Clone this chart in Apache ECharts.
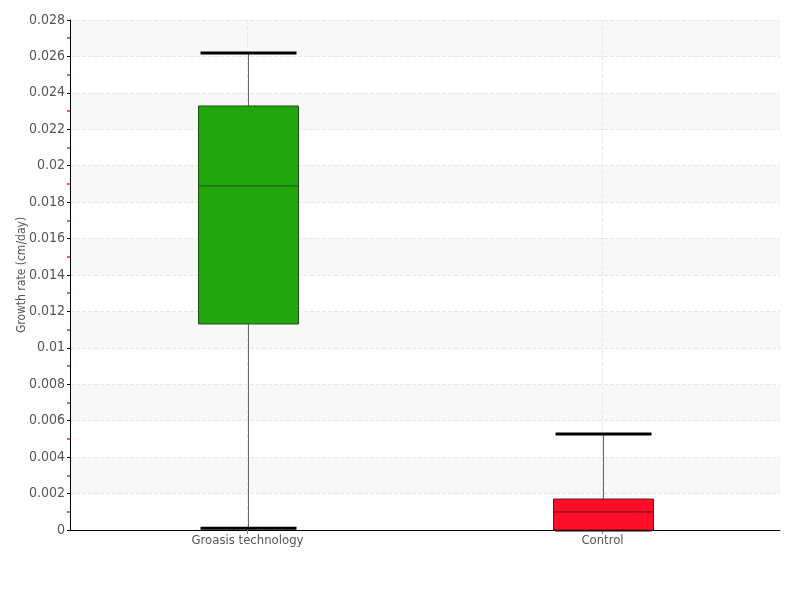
<!DOCTYPE html>
<html>
<head>
<meta charset="utf-8">
<script src="https://cdn.jsdelivr.net/npm/echarts@6/dist/echarts.min.js"></script>
<style>
  html, body { margin: 0; padding: 0; background: #fff; }
  #chart { width: 800px; height: 600px; }
</style>
</head>
<body>
<div id="chart"></div>
<script>
// values (cm/day)
const categories = ['Groasis technology', 'Control']
const whiskerLow = [0.0001, 0]
const q1 = [0.01131, 0]
const median = [0.01889, 0.00099]
const q3 = [0.02328, 0.0017]
const whiskerHigh = [0.02619, 0.00527]
const boxColors = ['#22a60e', '#ff0d29']
const boxBorders = ['#234d1a', '#5c1616']

const font = '"DejaVu Sans Condensed", "Liberation Sans Narrow", sans-serif'
const boxWidth = 100
const capWidth = 96

const boxData = categories.map((c, i) => [i, whiskerLow[i], q1[i], median[i], q3[i], whiskerHigh[i]])

function renderBox(params, api) {
  const i = api.value(0)
  const lo = api.coord([i, api.value(1)])
  const b1 = api.coord([i, api.value(2)])
  const md = api.coord([i, api.value(3)])
  const b3 = api.coord([i, api.value(4)])
  const hi = api.coord([i, api.value(5)])
  const x = Math.round(lo[0]) + 0.5
  const half = boxWidth / 2
  const capHalf = capWidth / 2
  const stem = { stroke: '#666', lineWidth: 1 }
  const cap = { stroke: '#000', lineWidth: 3 }
  return {
    type: 'group',
    children: [
      { type: 'line', shape: { x1: x, y1: lo[1], x2: x, y2: b1[1] }, style: stem },
      { type: 'line', shape: { x1: x, y1: b3[1], x2: x, y2: hi[1] }, style: stem },
      { type: 'line', shape: { x1: x - capHalf, y1: hi[1], x2: x + capHalf, y2: hi[1] }, style: cap },
      { type: 'line', shape: { x1: x - capHalf, y1: lo[1], x2: x + capHalf, y2: lo[1] }, style: cap },
      {
        type: 'rect',
        shape: { x: x - half, y: b3[1], width: boxWidth, height: b1[1] - b3[1] },
        style: { fill: boxColors[i], stroke: boxBorders[i], lineWidth: 1 },
      },
      { type: 'line', shape: { x1: x - half, y1: md[1], x2: x + half, y2: md[1] }, style: { stroke: boxBorders[i], lineWidth: 1 } },
    ],
  }
}

const chart = echarts.init(document.getElementById('chart'), null, { renderer: 'canvas' })
chart.setOption({
  animation: false,
  grid: { left: 70, right: 20, top: 20, bottom: 70, containLabel: false },
  xAxis: {
    type: 'category',
    data: categories,
    boundaryGap: true,
    axisLine: { lineStyle: { color: '#000', width: 1 } },
    axisTick: { show: true, alignWithLabel: true, length: 4, lineStyle: { color: '#888' } },
    axisLabel: { color: '#555', fontSize: 13, fontFamily: font, margin: 4 },
    splitLine: { show: true, alignWithLabel: true, lineStyle: { color: '#e8e8e8', type: 'dashed' } },
  },
  yAxis: {
    type: 'value',
    min: 0,
    max: 0.028,
    interval: 0.002,
    name: 'Growth rate (cm/day)',
    nameLocation: 'middle',
    nameGap: 42,
    nameMoveOverlap: false,
    nameTextStyle: { color: '#555', fontSize: 12, fontFamily: font },
    axisLine: { show: true, lineStyle: { color: '#000', width: 1 } },
    axisTick: { show: true, length: 3, lineStyle: { color: '#000' } },
    minorTick: { show: true, splitNumber: 2, length: 3, lineStyle: { color: '#ff2020', width: 1.5 } },
    axisLabel: { color: '#555', fontSize: 14, fontFamily: font, margin: 5 },
    splitLine: { show: true, lineStyle: { color: '#e6e6e6', type: 'dashed' } },
    splitArea: { show: true, areaStyle: { color: ['#ffffff', '#f8f8f8'] } },
  },
  series: [
    {
      type: 'custom',
      renderItem: renderBox,
      encode: { x: 0, y: [1, 2, 3, 4, 5] },
      data: boxData,
      silent: true,
    },
  ],
})
</script>
</body>
</html>
